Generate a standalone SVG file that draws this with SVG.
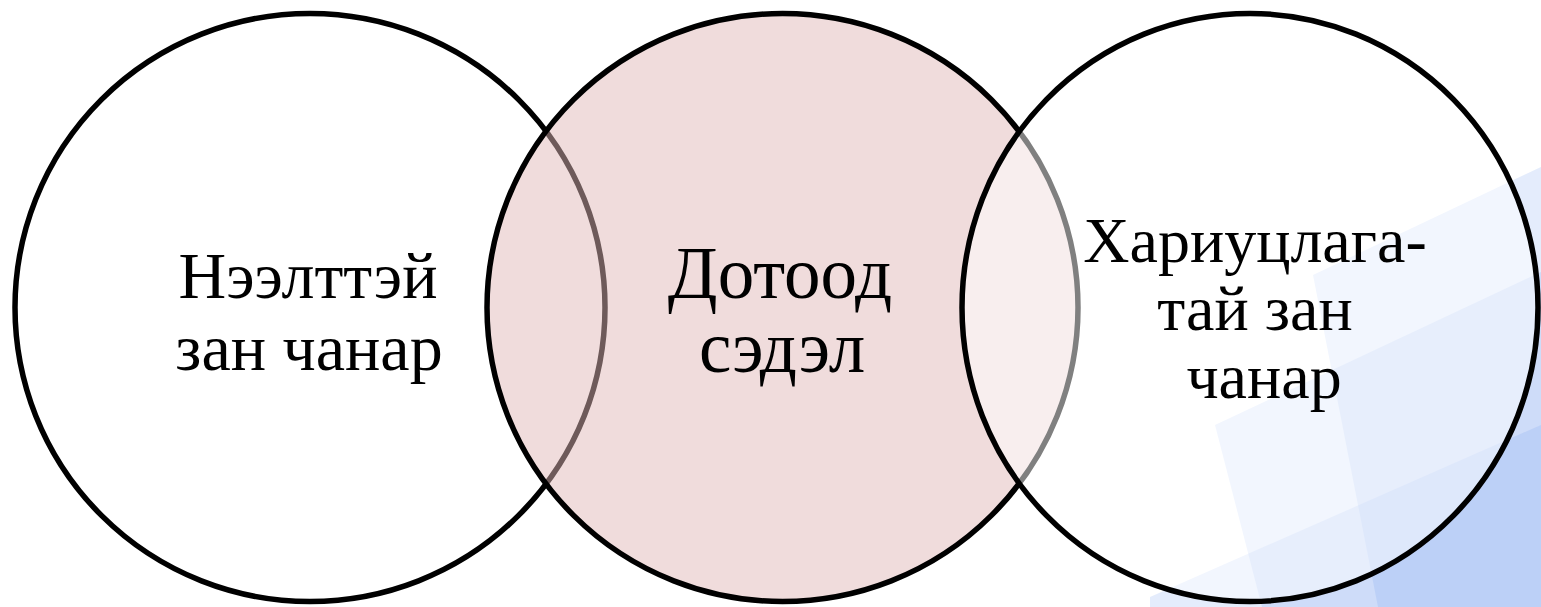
<svg xmlns="http://www.w3.org/2000/svg" width="1541" height="607" viewBox="0 0 1541 607">
  <style>
    .bg { fill: rgb(120,160,240); fill-opacity: 0.2; }
    .ring { stroke: #000; stroke-width: 5.5; }
    .lbl { font-family: "Liberation Serif", "Times New Roman", serif; fill: #000; text-anchor: middle; }
    .s66 { font-size: 66px; }
    .s73 { font-size: 73px; }
    .s64 { font-size: 64px; }
  </style>
  <rect x="0" y="0" width="1541" height="607" fill="#fff"/>
  <g id="background">
    <polygon class="bg" points="1313,275 1541,167 1541,607 1378,607"/>
    <polygon class="bg" points="1215,425 1541,272 1541,607 1262,607"/>
    <polygon class="bg" points="1150,597 1541,425 1541,607 1150,607"/>
  </g>
  <g id="node-left">
    <ellipse class="ring" cx="310" cy="307.5" rx="295" ry="294" fill="#fff" fill-opacity="0.5"/>
    <text class="lbl s66" x="308" y="298">Нээлттэй</text>
    <text class="lbl s66" x="309" y="370">зан чанар</text>
  </g>
  <g id="node-middle">
    <ellipse class="ring" cx="782.5" cy="307.5" rx="295.5" ry="294" fill="rgb(224,184,184)" fill-opacity="0.49"/>
  </g>
  <g id="node-right">
    <ellipse class="ring" cx="1250" cy="307.5" rx="288" ry="294" fill="#fff" fill-opacity="0.5"/>
  </g>
  <g id="labels">
    <text class="lbl s73" x="780" y="298">Дотоод</text>
    <text class="lbl s73" x="782" y="372">сэдэл</text>
    <text class="lbl s64" x="1255" y="262">Хариуцлага-</text>
    <text class="lbl s64" x="1255" y="330">тай зан</text>
    <text class="lbl s64" x="1264" y="398">чанар</text>
  </g>
  <g id="connectors"></g>
</svg>
